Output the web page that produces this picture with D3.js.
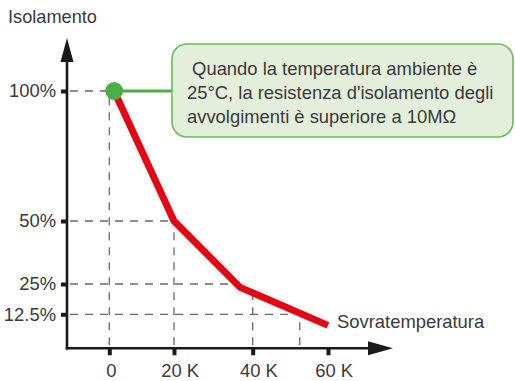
<!DOCTYPE html>
<html>
<head>
<meta charset="utf-8">
<script src="https://cdn.jsdelivr.net/npm/d3@7"></script>
<style>
  html, body { margin: 0; padding: 0; background: #ffffff; }
  svg { display: block; }
  text { font-family: "Liberation Sans", Arial, sans-serif; font-weight: 400; fill: #3a3a3a; }
</style>
</head>
<body>
<svg id="chart" width="515" height="381"></svg>
<script>
// Temperature rise axis (K)
const tempTicks = [0, 20, 40, 60];
const tempTickLabels = ["0", "20 K", "40 K", "60 K"];

// Insulation axis (%)
const levelTicks = [100, 50, 25, 12.5];
const levelTickLabels = ["100%", "50%", "25%", "12.5%"];

// Insulation curve versus over-temperature
const curveTemp = [1.5, 20, 36.8, 60];
const curveLevel = [100, 50, 23.6, 8.4];

// Dashed reference lines
const guideTemps = [0, 20, 40, 52.5];
const guideLevels = [100, 50, 25, 12.5];

// Axis titles and note
const yTitle = "Isolamento";
const xTitle = "Sovratemperatura";
const noteLines = [
  " Quando la temperatura ambiente è",
  "25°C, la resistenza d'isolamento degli",
  "avvolgimenti è superiore a 10MΩ"
];

const FONT = "'Liberation Sans', Arial, sans-serif";
const svg = d3.select("#chart");

const axisX = 67;      // position of the vertical axis
const axisY = 348.3;   // position of the horizontal axis

const x = d3.scaleLinear().domain([0, 20, 40, 60]).range([109.3, 174, 252.7, 328]);
const y = d3.scaleLinear().domain([0, 12.5, 25, 50, 100]).range([348, 314.3, 284, 221, 91]);

const ink = "#1a1a1a";
const red = "#e30613";
const green = "#4cae46";

// Curve in pixel space, used to find where the guides meet it
const pts = curveTemp.map((t, i) => [x(t), y(curveLevel[i])]);

function xOnCurveAtY(py) {
  for (let i = 0; i < pts.length - 1; i++) {
    const [x0, y0] = pts[i], [x1, y1] = pts[i + 1];
    if ((py - y0) * (py - y1) <= 0 && y0 !== y1) {
      return x0 + (py - y0) / (y1 - y0) * (x1 - x0);
    }
  }
  return pts[0][0];
}
function yOnCurveAtX(px) {
  if (px <= pts[0][0]) return pts[0][1];
  for (let i = 0; i < pts.length - 1; i++) {
    const [x0, y0] = pts[i], [x1, y1] = pts[i + 1];
    if (px >= x0 && px <= x1) return y0 + (px - x0) / (x1 - x0) * (y1 - y0);
  }
  return pts[pts.length - 1][1];
}

// Dashed guides
const guides = svg.append("g")
  .attr("fill", "none")
  .attr("stroke", "#6a6a6a")
  .attr("stroke-width", 1.3)
  .attr("stroke-dasharray", "8,7");

guides.selectAll("line.h").data(guideLevels).join("line")
  .attr("class", "h")
  .attr("x1", axisX + 3)
  .attr("x2", d => xOnCurveAtY(y(d)))
  .attr("y1", d => y(d))
  .attr("y2", d => y(d));

guides.selectAll("line.v").data(guideTemps).join("line")
  .attr("class", "v")
  .attr("x1", d => x(d))
  .attr("x2", d => x(d))
  .attr("y1", axisY - 3)
  .attr("y2", d => yOnCurveAtX(x(d)));

// Insulation curve
svg.append("path")
  .datum(curveTemp.map((t, i) => ({ t, v: curveLevel[i] })))
  .attr("fill", "none")
  .attr("stroke", red)
  .attr("stroke-width", 7)
  .attr("stroke-linejoin", "round")
  .attr("d", d3.line().x(d => x(d.t)).y(d => y(d.v)));

// Note box with its connector
const boxX = 172, boxY = 44, boxW = 341, boxH = 93;
svg.append("line")
  .attr("x1", x(curveTemp[0])).attr("x2", boxX)
  .attr("y1", y(curveLevel[0])).attr("y2", y(curveLevel[0]))
  .attr("stroke", green).attr("stroke-width", 3);

svg.append("circle")
  .attr("cx", x(curveTemp[0]))
  .attr("cy", y(curveLevel[0]))
  .attr("r", 9)
  .attr("fill", green);

svg.append("rect")
  .attr("x", boxX).attr("y", boxY)
  .attr("width", boxW).attr("height", boxH)
  .attr("rx", 15).attr("ry", 15)
  .attr("fill", "#e3efdb")
  .attr("stroke", "#68bd5c")
  .attr("stroke-width", 1.6);

svg.append("g").selectAll("text").data(noteLines).join("text")
  .attr("x", 187)
  .attr("y", (d, i) => 75 + i * 24)
  .style("white-space", "pre")
  .style("font-size", "18.4px")
  .text(d => d);

// Vertical axis
const yAxis = d3.axisLeft(y)
  .tickValues(levelTicks)
  .tickFormat((d, i) => levelTickLabels[i])
  .tickSize(6)
  .tickPadding(5);

const gy = svg.append("g").attr("transform", `translate(${axisX},0)`).call(yAxis);
gy.select(".domain").remove();
gy.selectAll(".tick line").attr("stroke", ink).attr("stroke-width", 4);
gy.selectAll(".tick text")
  .attr("fill", "#3a3a3a")
  .style("font-family", FONT)
  .style("font-size", "18.4px");

// Horizontal axis
const xAxis = d3.axisBottom(x)
  .tickValues(tempTicks)
  .tickFormat((d, i) => tempTickLabels[i])
  .tickSize(7)
  .tickPadding(8.5);

const gx = svg.append("g").attr("transform", `translate(0,${axisY})`).call(xAxis);
gx.select(".domain").remove();
gx.selectAll(".tick line").attr("stroke", ink).attr("stroke-width", 4);
gx.selectAll(".tick text")
  .attr("fill", "#3a3a3a")
  .style("font-family", FONT)
  .style("font-size", "18.4px")
  .attr("text-anchor", "start")
  .each(function (d) {
    // center the numeric part just left of the tick, the unit follows it
    const num = String(d);
    const probe = svg.append("text")
      .style("font-family", FONT)
      .style("font-size", "18.4px")
      .text(num);
    const w = probe.node().getComputedTextLength();
    probe.remove();
    const shift = num === "0" ? 1.5 : -3;
    d3.select(this).attr("x", shift - w / 2);
  });

// Axis lines with arrowheads
const yTip = 38, yHead = 62, xTip = 393, xHead = 368;
svg.append("line")
  .attr("x1", axisX).attr("x2", axisX)
  .attr("y1", axisY + 1.2).attr("y2", yHead)
  .attr("stroke", ink).attr("stroke-width", 2.6);
svg.append("path")
  .attr("d", `M${axisX},${yTip}L${axisX + 6.5},${yHead}L${axisX - 6.5},${yHead}Z`)
  .attr("fill", ink);

svg.append("line")
  .attr("x1", axisX - 1.3).attr("x2", xHead)
  .attr("y1", axisY).attr("y2", axisY)
  .attr("stroke", ink).attr("stroke-width", 2.6);
svg.append("path")
  .attr("d", `M${xTip},${axisY}L${xHead},${axisY - 7}L${xHead},${axisY + 7}Z`)
  .attr("fill", ink);

// Axis titles
svg.append("text")
  .attr("x", 8).attr("y", 23)
  .style("font-size", "18.2px")
  .text(yTitle);

svg.append("text")
  .attr("x", 337).attr("y", 327.5)
  .style("font-size", "18.4px")
  .text(xTitle);
</script>
</body>
</html>
